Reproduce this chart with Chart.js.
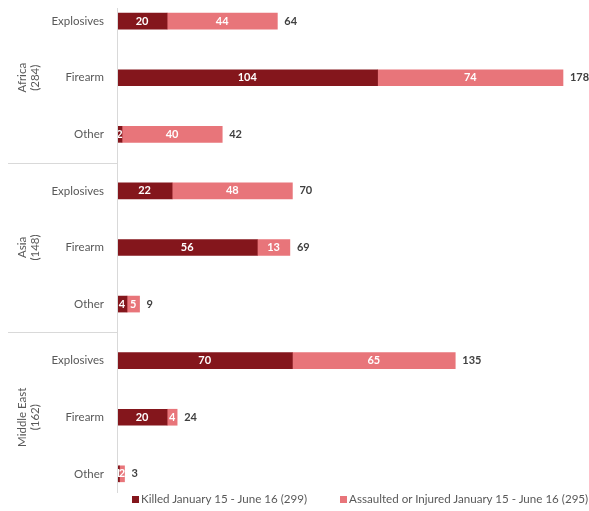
<!DOCTYPE html>
<html>
<head>
<meta charset="utf-8">
<script src="https://cdn.jsdelivr.net/npm/chart.js@4.4.1/dist/chart.umd.min.js"></script>
<style>
  body { margin: 0; background: #fff; overflow: hidden; }
  #wrap { position: absolute; left: 0; top: -27px; width: 589px; height: 549px; }
  #legend { position: absolute; top: 492px; left: 132px; font: 11.6px Lato, sans-serif; color: #595959; white-space: nowrap; }
  #legend span.item { display: inline-block; margin-right: 33px; }
  #legend i { display: inline-block; width: 7px; height: 7px; margin-right: 2px; vertical-align: 0px; }
</style>
</head>
<body>
<div id="wrap"><canvas id="chart"></canvas></div>
<div id="legend"></div>
<script>
const groups = [['Africa', '(284)'], ['Asia', '(148)'], ['Middle East', '(162)']];
const types = ['Explosives', 'Firearm', 'Other'];
const killed = [20, 104, 2, 22, 56, 4, 70, 20, 1];
const injured = [44, 74, 40, 48, 13, 5, 65, 4, 2];
const seriesNames = ['Killed January 15 - June 16 (299)', 'Assaulted or Injured January 15 - June 16 (295)'];
const colors = ['#84161C', '#E8757A'];

const labels = [];
groups.forEach(() => types.forEach(t => labels.push(t)));

// canvas sits 27px above the page top
const offsetY = 27;

// labels inside segments and totals at the end of each bar
const barLabels = {
    id: 'barLabels',
    afterDatasetsDraw(chart) {
        const ctx = chart.ctx;
        ctx.save();
        ctx.textBaseline = 'middle';
        ctx.font = 'bold 11px Lato, sans-serif';
        chart.data.datasets.forEach((ds, i) => {
            chart.getDatasetMeta(i).data.forEach((bar, j) => {
                ctx.fillStyle = '#fff';
                ctx.textAlign = 'center';
                ctx.fillText(ds.data[j], (bar.x + bar.base) / 2, bar.y);
            });
        });
        const last = chart.getDatasetMeta(1).data;
        last.forEach((bar, j) => {
            ctx.fillStyle = '#404040';
            ctx.textAlign = 'left';
            ctx.fillText(killed[j] + injured[j], bar.x + 7, bar.y);
        });
        ctx.restore();
    }
};

// group labels, separators and the axis line
const groupAxis = {
    id: 'groupAxis',
    afterDraw(chart) {
        const ctx = chart.ctx;
        const y = chart.scales.y;
        const left = chart.chartArea.left;
        ctx.save();
        ctx.strokeStyle = '#D9D9D9';
        ctx.lineWidth = 1;
        ctx.beginPath();
        ctx.moveTo(left + 0.5, 8 + offsetY);
        ctx.lineTo(left + 0.5, 493 + offsetY);
        [2, 5].forEach(k => {
            const p = Math.round((y.getPixelForValue(k) + y.getPixelForValue(k + 1)) / 2) + 0.5;
            ctx.moveTo(8, p);
            ctx.lineTo(left, p);
        });
        ctx.stroke();
        ctx.fillStyle = '#595959';
        ctx.font = '11.5px Lato, sans-serif';
        ctx.textAlign = 'center';
        ctx.textBaseline = 'middle';
        groups.forEach((g, k) => {
            const cy = y.getPixelForValue(k * 3 + 1);
            g.forEach((line, n) => {
                ctx.save();
                ctx.translate(22 + n * 13, cy);
                ctx.rotate(-Math.PI / 2);
                ctx.fillText(line, 0, 0);
                ctx.restore();
            });
        });
        ctx.restore();
    }
};

new Chart(document.getElementById('chart'), {
    type: 'bar',
    data: {
        labels: labels,
        datasets: [
            { label: seriesNames[0], data: killed, backgroundColor: colors[0], barThickness: 16 },
            { label: seriesNames[1], data: injured, backgroundColor: colors[1], barThickness: 16 }
        ]
    },
    options: {
        indexAxis: 'y',
        responsive: true,
        maintainAspectRatio: false,
        animation: false,
        layout: { padding: { left: 0, right: 21, top: 0, bottom: 0 } },
        plugins: { legend: { display: false }, tooltip: { enabled: false } },
        scales: {
            x: { stacked: true, min: 0, max: 180, display: false },
            y: {
                stacked: true,
                grid: { display: false, drawTicks: false },
                border: { display: false },
                ticks: { color: '#595959', font: { family: 'Lato', size: 11.5 }, padding: 13, autoSkip: false },
                afterFit(scale) { scale.width = 117; }
            }
        }
    },
    plugins: [barLabels, groupAxis]
});

const legend = document.getElementById('legend');
seriesNames.forEach((name, i) => {
    const item = document.createElement('span');
    item.className = 'item';
    item.innerHTML = '<i style="background:' + colors[i] + '"></i>' + name;
    legend.appendChild(item);
});
</script>
</body>
</html>
